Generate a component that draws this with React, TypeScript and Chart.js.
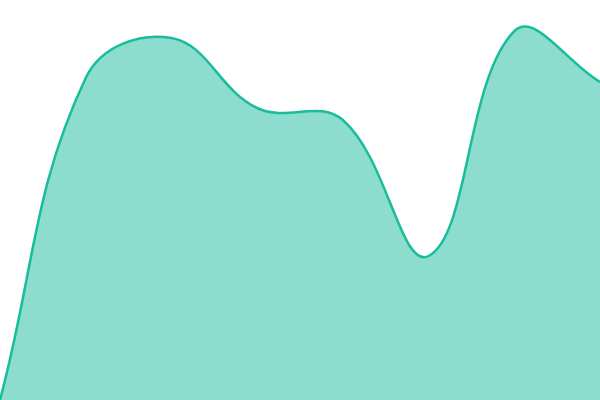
import { useEffect, useRef } from 'react';
import { Chart, registerables } from 'chart.js';

Chart.register(...registerables);

const labels = ['A', 'B', 'C', 'D', 'E', 'F', 'G', 'H'];
const values = [0, 80.5, 90.5, 73, 70, 36, 92.2, 79.5];

export default function App() {
  const chartRef = useRef<HTMLCanvasElement>(null);

  useEffect(() => {
    document.body.style.margin = '0';
    if (!chartRef.current) return;
    const chart = new Chart(chartRef.current, {
      type: 'line',
      data: {
        labels,
        datasets: [{
          data: values,
          borderColor: '#1abc9c',
          backgroundColor: 'rgba(26, 188, 156, 0.5)',
          borderWidth: 2.5,
          fill: true,
          tension: 0.4,
          pointRadius: 0,
        }]
      },
      options: {
        responsive: true,
        maintainAspectRatio: false,
        animation: false,
        layout: { padding: 0 },
        plugins: {
          legend: { display: false },
          tooltip: { enabled: false }
        },
        scales: {
          x: { display: false },
          y: { display: false, min: 0, max: 100 }
        }
      }
    });

    return () => {
      chart.destroy();
    };
  }, []);

  return (
    <div style={{ position: 'fixed', left: 0, top: 0, width: 600, height: 400 }}>
      <canvas ref={chartRef}></canvas>
    </div>
  );
}
